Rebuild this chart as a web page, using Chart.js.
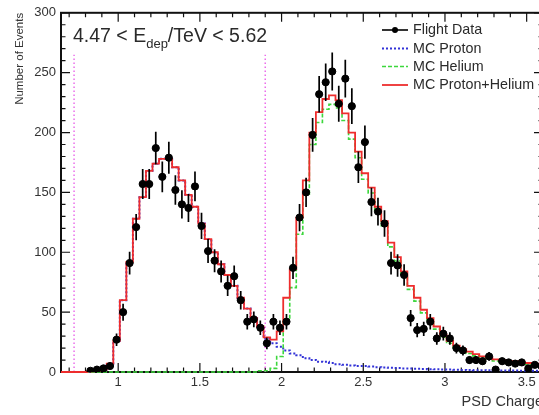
<!DOCTYPE html>
<html>
<head>
<meta charset="utf-8">
<script src="https://cdn.jsdelivr.net/npm/chart.js@4.4.0/dist/chart.umd.min.js"></script>
<style>
  html, body { margin: 0; padding: 0; background: #fff; overflow: hidden; }
  #wrap { width: 539px; height: 415px; overflow: hidden; }
  canvas { display: block; }
</style>
</head>
<body>
<div id="wrap"><canvas id="psd" width="548" height="415"></canvas></div>
<script>
// PSD charge histograms, bins of 0.04 starting at 0.65
const binLow = 0.65;
const binWidth = 0.04;

const flightData = [null, null, null, null, 1, 2, 3, 5, 27, 50,
  91, 121, 157, 157, 187, 163, 179, 152, 140, 137,
  155, 122, 101, 93, 84, 72, 80, 60, 42, 44,
  37, 24, 42, 37, 42, 87, 129, 150, 198, 232,
  242, 251, 224, 245, 222, 171, 192, 142, 134, 124,
  91, 89, 81, 45, 35, 36, 42, 28, 32, 28,
  20, 18, 10, 10, 9, 13, 2, 9, 8, 7,
  8, 3, 6, 5];

const flightErr = [0, 0, 0, 0, 1, 1.4, 1.7, 2.2, 5.2, 7.1,
  9.5, 11, 12.5, 12.5, 13.7, 12.8, 13.4, 12.3, 11.8, 11.7,
  12.4, 11, 10, 9.6, 9.2, 8.5, 8.9, 7.7, 6.5, 6.6,
  6.1, 4.9, 6.5, 6.1, 6.5, 9.3, 11.4, 12.2, 14.1, 15.2,
  15.6, 15.8, 15, 15.7, 14.9, 13.1, 13.9, 11.9, 11.6, 11.1,
  9.5, 9.4, 9, 6.7, 5.9, 6, 6.5, 5.3, 5.7, 5.3,
  4.5, 4.2, 3.2, 3.2, 3, 3.6, 1.4, 3, 2.8, 2.6,
  2.8, 1.7, 2.4, 2.2];

const mcProton = [0, 0, 0, 0, 0.5, 1, 2, 7, 26, 60,
  92, 128, 146, 168, 174, 178, 178, 171, 160, 148,
  138, 124, 111, 100, 90, 81, 72, 62, 53, 45,
  37, 28, 24, 21, 18, 15.5, 14, 11.5, 10, 8.6,
  8.5, 7.5, 6.5, 6, 5.5, 5, 5, 4.5, 4, 3.8,
  3.5, 3.3, 3, 3, 2.8, 2.6, 2.4, 2.2, 2, 2,
  1.8, 1.7, 1.6, 1.5, 1.5, 1.4, 1.3, 1.3, 1.2, 1.2,
  1.1, 1, 1, 1];

const mcHelium = [0, 0, 0, 0, 0, 0, 0, 0, 0, 0,
  0, 0, 0, 0, 0, 0, 0, 0, 0, 0,
  0, 0, 0, 0, 0, 0, 0, 0, 0, 0,
  1, 1, 3, 13, 44, 70.5, 115, 148.5, 190, 208.4,
  219.5, 223.5, 220.5, 210, 194.5, 179, 161, 149.5, 134, 122.2,
  104.5, 92.7, 81, 69, 59.2, 49.4, 42.6, 35.8, 29, 24,
  20.2, 17.3, 15.4, 13.5, 11.5, 10.6, 9.2, 8.7, 7.8, 7.8,
  6.9, 6.5, 6, 5.5];

const mcTotal = [0, 0, 0, 0, 0.5, 1, 2, 7, 26, 60,
  92, 128, 146, 168, 174, 178, 178, 171, 160, 148,
  138, 124, 111, 100, 90, 81, 72, 62, 53, 45,
  38, 29, 27, 34, 62, 86, 129, 160, 200, 217,
  228, 231, 227, 216, 200, 184, 166, 154, 138, 126,
  108, 96, 84, 72, 62, 52, 45, 38, 31, 26,
  22, 19, 17, 15, 13, 12, 10.5, 10, 9, 9,
  8, 7.5, 7, 6.5];

const xTicks = [1, 1.5, 2, 2.5, 3, 3.5];
const yTicks = [0, 50, 100, 150, 200, 250, 300];
const cutLines = [0.73, 1.9];
const cutTop = 265;
const legendLabels = ["Flight Data", "MC Proton", "MC Helium", "MC Proton+Helium"];

const FONT = "'Liberation Sans', Arial, Helvetica, sans-serif";
const RED = "rgb(238,45,45)";
const BLUE = "rgb(50,50,215)";
const GREEN = "rgb(60,215,60)";
const MAGENTA = "rgb(235,110,235)";

const edge = (i) => +(binLow + binWidth * i).toFixed(3);
const center = (i) => +(binLow + binWidth * (i + 0.5)).toFixed(3);

// points for a stepped histogram outline
function stepPoints(vals) {
  const pts = vals.map((v, i) => ({ x: edge(i), y: v }));
  pts.push({ x: edge(vals.length), y: vals[vals.length - 1] });
  return pts;
}

const dataPoints = [];
flightData.forEach((v, i) => {
  if (v !== null) dataPoints.push({ x: center(i), y: v });
});

function histSet(label, vals, color, dash, width, order) {
  return {
    label: label,
    data: stepPoints(vals),
    stepped: true,
    borderColor: color,
    borderWidth: width,
    borderDash: dash,
    pointRadius: 0,
    fill: false,
    clip: 4,
    order: order,
  };
}

function cutSet(v) {
  return {
    label: "cut",
    data: [{ x: v, y: 0 }, { x: v, y: cutTop }],
    borderColor: MAGENTA,
    borderWidth: 1.5,
    borderDash: [1.5, 2.5],
    pointRadius: 0,
    order: 5,
  };
}

// frame with inward ROOT style ticks on all four sides
const framePlugin = {
  id: "frame",
  beforeDatasetsDraw(chart) {
    const { ctx, chartArea: a, scales: { x, y } } = chart;
    ctx.save();
    ctx.strokeStyle = "#111";
    ctx.lineWidth = 1.2;
    ctx.beginPath();
    for (let i = 7; i <= 36; i++) {
      const v = i / 10;
      const major = xTicks.some((t) => Math.abs(t - v) < 1e-6);
      const len = major ? 9 : 4.5;
      const px = x.getPixelForValue(v);
      ctx.moveTo(px, a.bottom);
      ctx.lineTo(px, a.bottom - len);
      ctx.moveTo(px, a.top);
      ctx.lineTo(px, a.top + len);
    }
    for (let v = 0; v <= 300; v += 10) {
      const len = v % 50 === 0 ? 9 : 4.5;
      const py = y.getPixelForValue(v);
      ctx.moveTo(a.left, py);
      ctx.lineTo(a.left + len, py);
      ctx.moveTo(a.right, py);
      ctx.lineTo(a.right - len, py);
    }
    ctx.stroke();
    ctx.lineWidth = 2;
    ctx.strokeRect(a.left, a.top, a.right - a.left, a.bottom - a.top);
    ctx.restore();
  },
};

// error bars and bin width bars for flight data
const errorPlugin = {
  id: "errors",
  afterDatasetsDraw(chart) {
    const { ctx, scales: { x, y } } = chart;
    ctx.save();
    ctx.strokeStyle = "#000";
    ctx.lineWidth = 1.7;
    ctx.beginPath();
    flightData.forEach((v, i) => {
      if (v === null) return;
      const cx = x.getPixelForValue(center(i));
      const cy = y.getPixelForValue(v);
      ctx.moveTo(cx, y.getPixelForValue(v + flightErr[i]));
      ctx.lineTo(cx, y.getPixelForValue(Math.max(0, v - flightErr[i])));
      ctx.moveTo(x.getPixelForValue(edge(i)), cy);
      ctx.lineTo(x.getPixelForValue(edge(i + 1)), cy);
    });
    ctx.stroke();
    ctx.restore();
  },
};

// energy range label and legend
const textPlugin = {
  id: "texts",
  afterDraw(chart) {
    const ctx = chart.ctx;
    ctx.save();
    ctx.fillStyle = "#2a2a2a";
    ctx.textBaseline = "alphabetic";
    ctx.textAlign = "left";
    let tx = 73;
    ctx.font = "19.5px " + FONT;
    ctx.fillText("4.47 < E", tx, 42);
    tx += ctx.measureText("4.47 < E").width;
    ctx.font = "13px " + FONT;
    ctx.fillText("dep", tx, 48);
    tx += ctx.measureText("dep").width;
    ctx.font = "19.5px " + FONT;
    ctx.fillText("/TeV < 5.62", tx, 42);

    const rows = [30, 48.5, 66.5, 85];
    const x0 = 382, x1 = 408;
    ctx.font = "14.3px " + FONT;
    ctx.textBaseline = "middle";
    legendLabels.forEach((lab, i) => {
      const ry = rows[i];
      ctx.beginPath();
      if (i === 0) {
        ctx.strokeStyle = "#000"; ctx.lineWidth = 1.6; ctx.setLineDash([]);
      } else if (i === 1) {
        ctx.strokeStyle = BLUE; ctx.lineWidth = 2; ctx.setLineDash([2, 2]);
      } else if (i === 2) {
        ctx.strokeStyle = GREEN; ctx.lineWidth = 1.6; ctx.setLineDash([4, 2]);
      } else {
        ctx.strokeStyle = RED; ctx.lineWidth = 1.8; ctx.setLineDash([]);
      }
      ctx.moveTo(x0, ry);
      ctx.lineTo(x1, ry);
      ctx.stroke();
      if (i === 0) {
        ctx.beginPath();
        ctx.fillStyle = "#000";
        ctx.arc((x0 + x1) / 2, ry, 3, 0, Math.PI * 2);
        ctx.fill();
      }
      ctx.fillStyle = "#2a2a2a";
      ctx.fillText(lab, 413, ry + 0.5);
    });
    ctx.restore();
  },
};

new Chart(document.getElementById("psd"), {
  type: "line",
  data: {
    datasets: [
      {
        label: "Flight Data",
        type: "scatter",
        data: dataPoints,
        pointRadius: 3.6,
        pointBackgroundColor: "#000",
        pointBorderColor: "#000",
        showLine: false,
        order: 0,
      },
      histSet("MC Proton+Helium", mcTotal, RED, [], 1.8, 1),
      histSet("MC Helium", mcHelium, GREEN, [4, 2], 1.6, 2),
      histSet("MC Proton", mcProton, BLUE, [2, 2], 2, 3),
      cutSet(cutLines[0]),
      cutSet(cutLines[1]),
    ],
  },
  options: {
    responsive: false,
    animation: false,
    layout: { padding: { left: 0, right: 5, top: 11, bottom: 0 } },
    plugins: { legend: { display: false }, tooltip: { enabled: false } },
    scales: {
      x: {
        type: "linear",
        min: 0.65,
        max: 3.6,
        grid: { display: false, drawTicks: false },
        border: { display: false },
        afterBuildTicks: (axis) => { axis.ticks = xTicks.map((v) => ({ value: v })); },
        afterFit: (s) => { s.height = 43; },
        ticks: {
          padding: 3,
          maxRotation: 0,
          color: "#333",
          font: { family: FONT, size: 13 },
          callback: (v) => String(v),
        },
        title: {
          display: true,
          text: "PSD Charge",
          align: "end",
          color: "#333",
          font: { family: FONT, size: 14.5 },
          padding: { top: 0, bottom: 4 },
        },
      },
      y: {
        min: 0,
        max: 300,
        grid: { display: false, drawTicks: false },
        border: { display: false },
        afterBuildTicks: (axis) => { axis.ticks = yTicks.map((v) => ({ value: v })); },
        afterFit: (s) => { s.width = 61; },
        ticks: {
          padding: 5,
          color: "#333",
          font: { family: FONT, size: 13 },
          callback: (v) => String(v),
        },
        title: {
          display: true,
          text: "Number of Events",
          align: "end",
          color: "#333",
          font: { family: FONT, size: 11.5 },
          padding: { top: 13, bottom: 0 },
        },
      },
    },
  },
  plugins: [framePlugin, errorPlugin, textPlugin],
});
</script>
</body>
</html>
